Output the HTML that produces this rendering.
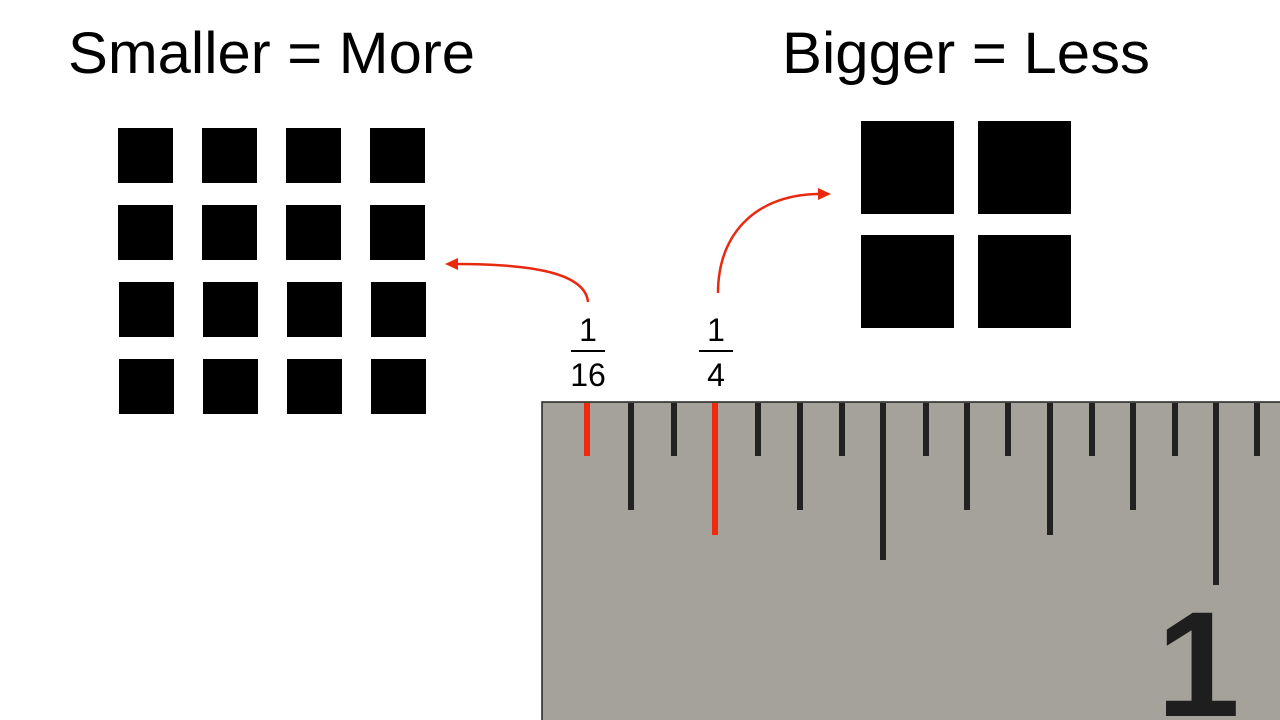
<!DOCTYPE html>
<html><head><style>
body{margin:0;width:1280px;height:720px;background:#fff;overflow:hidden;font-family:"Liberation Sans",sans-serif}
</style></head><body>
<svg width="1280" height="720" xmlns="http://www.w3.org/2000/svg" style="position:absolute;left:0;top:0">
<text x="68" y="73" font-size="58" font-family="Liberation Sans" fill="#000" textLength="407" lengthAdjust="spacingAndGlyphs">Smaller = More</text>
<text x="782" y="73" font-size="58" font-family="Liberation Sans" fill="#000" textLength="368" lengthAdjust="spacingAndGlyphs">Bigger = Less</text>
<g fill="#000">
<rect x="118" y="128" width="55" height="55"/><rect x="202" y="128" width="55" height="55"/><rect x="286" y="128" width="55" height="55"/><rect x="370" y="128" width="55" height="55"/>
<rect x="118" y="205" width="55" height="55"/><rect x="202" y="205" width="55" height="55"/><rect x="286" y="205" width="55" height="55"/><rect x="370" y="205" width="55" height="55"/>
<rect x="119" y="282" width="55" height="55"/><rect x="203" y="282" width="55" height="55"/><rect x="287" y="282" width="55" height="55"/><rect x="371" y="282" width="55" height="55"/>
<rect x="119" y="359" width="55" height="55"/><rect x="203" y="359" width="55" height="55"/><rect x="287" y="359" width="55" height="55"/><rect x="371" y="359" width="55" height="55"/>
<rect x="861" y="121" width="93" height="93"/><rect x="978" y="121" width="93" height="93"/>
<rect x="861" y="235" width="93" height="93"/><rect x="978" y="235" width="93" height="93"/>
</g>
<g stroke="#e8290f" stroke-width="2.5" fill="none">
<path d="M588 302 C585 270 520 264 456 264"/>
<path d="M718 293 C718 230 760 194 820 194"/>
</g>
<g fill="#e8290f">
<polygon points="445,264 458,258 458,270"/>
<polygon points="831,194 818,188 818,200"/>
</g>
<g font-family="Liberation Sans" font-size="32" fill="#000" text-anchor="middle">
<text x="588" y="341">1</text><text x="588" y="386">16</text>
<text x="716" y="341">1</text><text x="716" y="386">4</text>
</g>
<rect x="571" y="350" width="34" height="2" fill="#000"/>
<rect x="699" y="350" width="34" height="2" fill="#000"/>
<rect x="542" y="402" width="740" height="320" fill="#a5a29b" stroke="#222" stroke-width="1.5"/>
<g fill="#222">
<rect x="628" y="403" width="6" height="107"/>
<rect x="671" y="403" width="6" height="53"/>
<rect x="755" y="403" width="6" height="53"/>
<rect x="797" y="403" width="6" height="107"/>
<rect x="839" y="403" width="6" height="53"/>
<rect x="880" y="403" width="6" height="157"/>
<rect x="923" y="403" width="6" height="53"/>
<rect x="964" y="403" width="6" height="107"/>
<rect x="1005" y="403" width="6" height="53"/>
<rect x="1047" y="403" width="6" height="132"/>
<rect x="1089" y="403" width="6" height="53"/>
<rect x="1130" y="403" width="6" height="107"/>
<rect x="1172" y="403" width="6" height="53"/>
<rect x="1213" y="403" width="6" height="182"/>
<rect x="1254" y="403" width="6" height="53"/>
</g>
<rect x="584" y="403" width="6" height="53" fill="#f02a0c"/>
<rect x="712" y="403" width="6" height="132" fill="#f02a0c"/>
<text x="1240" y="716" font-size="150" font-weight="bold" font-family="Liberation Sans" fill="#1e1e1e" text-anchor="end">1</text>
</svg>
</body></html>
